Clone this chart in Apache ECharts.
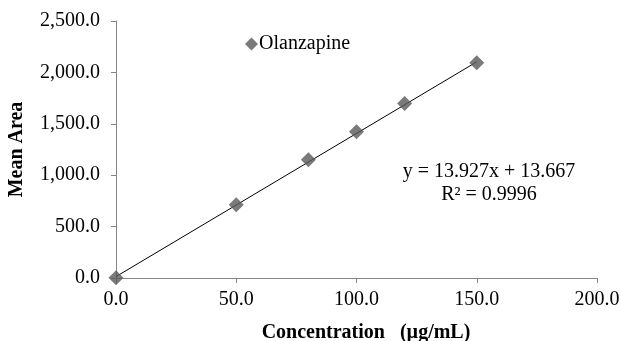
<!DOCTYPE html>
<html>
<head>
<meta charset="utf-8">
<script src="https://cdn.jsdelivr.net/npm/echarts@6/dist/echarts.min.js"></script>
<style>
  html, body { margin: 0; padding: 0; background: #fff; }
  #chart { width: 621px; height: 341px; }
</style>
</head>
<body>
<div id="chart"></div>
<script>
// Calibration data: concentration (µg/mL) vs mean peak area
const concentrations = [0, 50, 80, 100, 120, 150];
const meanAreas = [3, 712, 1150, 1422, 1697, 2093];
const seriesName = 'Olanzapine';

// Linear regression as reported on the chart
const slope = 13.927;
const intercept = 13.667;
const rSquared = 0.9996;
const fitRange = [0, 150];

const xTicks = { min: 0, max: 200, interval: 50 };
const yTicks = { min: 0, max: 2500, interval: 500 };

function fmt1(v) {
  const s = v.toFixed(1);
  const parts = s.split('.');
  parts[0] = parts[0].replace(/\B(?=(\d{3})+(?!\d))/g, ',');
  return parts.join('.');
}

const points = concentrations.map((c, i) => [c, meanAreas[i]]);
const fitLine = fitRange.map(x => [x, slope * x + intercept]);

const font = '"Liberation Serif", "Times New Roman", serif';
const axisGray = '#868686';
const fs = 20;

const chart = echarts.init(document.getElementById('chart'), null, { renderer: 'canvas' });
chart.setOption({
  animation: false,
  textStyle: { fontFamily: font },
  grid: { left: 116, right: 24, top: 21, bottom: 63, outerBoundsMode: 'none', containLabel: false },
  legend: {
    data: [{ name: seriesName, icon: 'diamond' }],
    left: 240, top: 29,
    itemWidth: 13, itemHeight: 13, itemGap: 2,
    textStyle: { fontFamily: font, fontSize: fs, color: '#000', padding: [0, 0, 0, -4] }
  },
  xAxis: {
    type: 'value',
    min: xTicks.min, max: xTicks.max, interval: xTicks.interval,
    name: 'Concentration   (µg/mL)',
    nameLocation: 'middle', nameGap: 45,
    nameTextStyle: { fontFamily: font, fontSize: fs, fontWeight: 'bold', color: '#000', padding: [0, 0, 0, 19] },
    axisLine: { show: true, lineStyle: { color: axisGray, width: 1 } },
    axisTick: { show: true, inside: false, length: 5, lineStyle: { color: axisGray } },
    axisLabel: { formatter: fmt1, fontFamily: font, fontSize: fs, color: '#000', margin: 12 },
    splitLine: { show: false }
  },
  yAxis: {
    type: 'value',
    min: yTicks.min, max: yTicks.max, interval: yTicks.interval,
    name: 'Mean Area',
    nameLocation: 'middle', nameGap: 89, nameRotate: 90,
    nameTextStyle: { fontFamily: font, fontSize: fs, fontWeight: 'bold', color: '#000' },
    axisLine: { show: true, lineStyle: { color: axisGray, width: 1 } },
    axisTick: { show: true, inside: false, length: 5, lineStyle: { color: axisGray } },
    axisLabel: { formatter: fmt1, fontFamily: font, fontSize: fs, color: '#000', margin: 16 },
    splitLine: { show: false }
  },
  series: [
    {
      name: 'Linear fit',
      type: 'line',
      data: fitLine,
      symbol: 'none',
      lineStyle: { color: '#000', width: 1 },
      silent: true,
      z: 1
    },
    {
      name: seriesName,
      type: 'scatter',
      data: points,
      symbol: 'diamond',
      symbolSize: 15,
      itemStyle: { color: '#595959' },
      z: 2
    }
  ],
  graphic: [
    {
      type: 'text',
      x: 489, y: 172,
      style: {
        text: 'y = ' + slope + 'x + ' + intercept,
        font: fs + 'px ' + font, fill: '#000',
        textAlign: 'center', textVerticalAlign: 'middle'
      }
    },
    {
      type: 'text',
      x: 489, y: 195,
      style: {
        text: 'R² = ' + rSquared,
        font: fs + 'px ' + font, fill: '#000',
        textAlign: 'center', textVerticalAlign: 'middle'
      }
    }
  ]
});
</script>
</body>
</html>
